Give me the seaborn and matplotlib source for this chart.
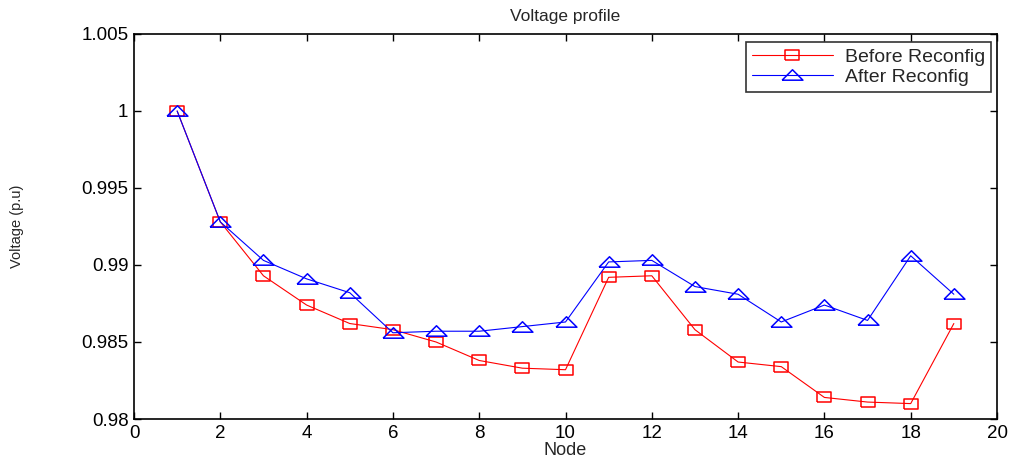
import numpy as np
import pandas as pd
import matplotlib
matplotlib.use('Agg')
import matplotlib.pyplot as plt
import seaborn as sns
from matplotlib.ticker import FuncFormatter, MultipleLocator

# data
nodes = list(range(1, 20))
before = [1.0, 0.9928, 0.9893, 0.9874, 0.9862, 0.9858, 0.9850, 0.9838, 0.9833, 0.9832,
          0.9892, 0.9893, 0.9858, 0.9837, 0.9834, 0.9814, 0.9811, 0.9810, 0.9862]
after = [1.0, 0.9928, 0.9903, 0.9891, 0.9882, 0.9856, 0.9857, 0.9857, 0.9860, 0.9863,
         0.9902, 0.9903, 0.9886, 0.9881, 0.9863, 0.9874, 0.9864, 0.9906, 0.9881]

sns.set_style('ticks')
plt.rcParams['font.family'] = ['Liberation Sans', 'DejaVu Sans']

# wide, flat markers like the stretched original
sq = [(-1, -0.7), (1, -0.7), (1, 0.7), (-1, 0.7), (-1, -0.7)]
tri = [(-1, -0.45), (1, -0.45), (0, 0.55), (-1, -0.45)]

fig = plt.figure(figsize=(10.15, 4.62), dpi=100)
ax = fig.add_axes([134 / 1015, 1 - 419 / 462, (997 - 134) / 1015, (419 - 34) / 462])

sns.lineplot(x=nodes, y=before, ax=ax, color='#ff0000', marker=sq, markersize=10,
             markerfacecolor='none', markeredgecolor='#ff0000', markeredgewidth=1.1,
             linewidth=0.8, label='Before Reconfig')
sns.lineplot(x=nodes, y=after, ax=ax, color='#0000ff', marker=tri, markersize=15,
             markerfacecolor='none', markeredgecolor='#0000ff', markeredgewidth=1.1,
             linewidth=0.8, label='After Reconfig')

ax.set_xlim(0, 20)
ax.set_ylim(0.98, 1.005)
ax.xaxis.set_major_locator(MultipleLocator(2))
ax.yaxis.set_major_locator(MultipleLocator(0.005))
ax.yaxis.set_major_formatter(FuncFormatter(lambda v, p: '%g' % round(v, 4)))
ax.tick_params(direction='in', top=True, right=True, length=5, width=1, labelsize=13.5,
               colors='black', pad=4)
for s in ax.spines.values():
    s.set_visible(True)
    s.set_linewidth(1.2)
    s.set_color('black')

ax.set_xlabel('Node', fontsize=13, labelpad=0)
ax.set_ylabel('Voltage (p.u)', fontsize=10.5)
ax.yaxis.set_label_coords(-0.127, 0.5)
ax.set_title('Voltage profile', fontsize=12.5, pad=9)

leg = ax.legend(loc='upper right', fontsize=14, handlelength=4.2, frameon=True,
                fancybox=False, edgecolor='black', borderpad=0.3, labelspacing=0.15,
                handletextpad=0.6, borderaxespad=0, bbox_to_anchor=(0.993, 0.979))
leg.get_frame().set_linewidth(1.2)

fig.savefig('out.png', dpi=100)
